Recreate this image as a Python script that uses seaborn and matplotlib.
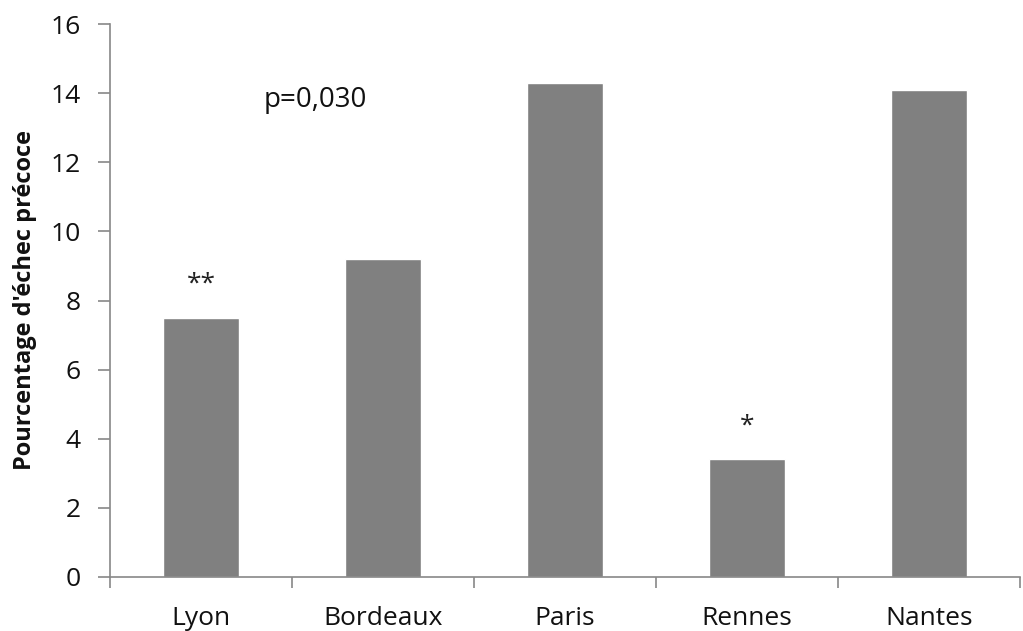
import matplotlib
matplotlib.use("Agg")
import matplotlib.pyplot as plt
import seaborn as sns
import pandas as pd

# Data
villes = ["Lyon", "Bordeaux", "Paris", "Rennes", "Nantes"]
echec = [7.5, 9.2, 14.3, 3.4, 14.1]
etoiles = ["**", "", "", "*", ""]

sns.set_theme(style="white")
plt.rcParams['font.family'] = ['Open Sans', 'DejaVu Sans']

df = pd.DataFrame({"ville": villes, "echec": echec})

fig = plt.figure(figsize=(10.23, 6.31), dpi=100)
ax = fig.add_axes([110 / 1023, 1 - 577 / 631, 910 / 1023, 553 / 631])

sns.barplot(data=df, x="ville", y="echec", color="#808080", saturation=1,
            width=0.415, ax=ax)

for i, (v, s) in enumerate(zip(echec, etoiles)):
    if s:
        ax.text(i, v + 0.6, s, ha="center", va="bottom", fontsize=19, color="#222222")

ax.text(0.63, 13.8, "p=0,030", ha="center", va="center", fontsize=20, color="#111111")

ax.set_xlim(-0.5, 4.5)
ax.set_ylim(0, 16)
ax.set_yticks(range(0, 17, 2))
ax.tick_params(axis="y", left=True, labelsize=19, length=9, width=1.2, color="#888888",
               direction="out", pad=12, labelcolor="#111111")

# category separators as major ticks, labels on minor ticks
ax.set_xticks([i - 0.5 for i in range(len(villes) + 1)])
ax.set_xticklabels([])
ax.set_xticks(range(len(villes)), minor=True)
ax.set_xticklabels(villes, minor=True)
ax.tick_params(axis="x", which="major", bottom=True, length=8, width=1.2, color="#888888",
               direction="out")
ax.tick_params(axis="x", which="minor", bottom=True, length=0, labelsize=19, pad=21,
               labelcolor="#111111")

ax.set_xlabel("")
ax.set_ylabel("Pourcentage d'échec précoce", fontsize=17, fontweight="bold",
              color="#111111", labelpad=10)

for side in ["top", "right"]:
    ax.spines[side].set_visible(False)
for side in ["left", "bottom"]:
    ax.spines[side].set_color("#888888")
    ax.spines[side].set_linewidth(1.2)

fig.savefig("out.png", dpi=100)
